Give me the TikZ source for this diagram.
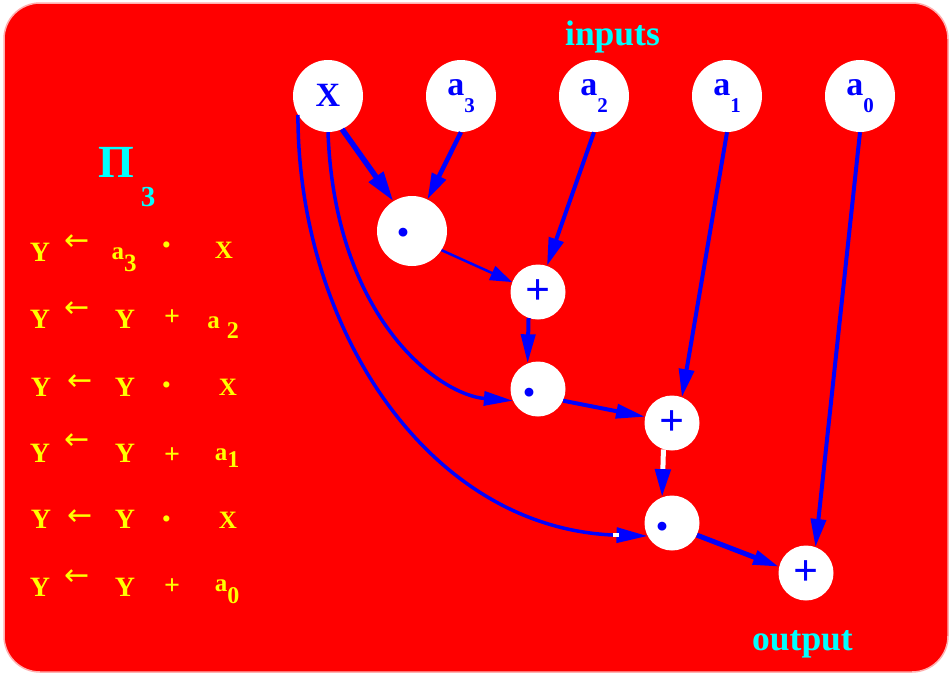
\documentclass[tikz,border=0pt]{standalone}
\usepackage{fontspec}
\setmainfont{Liberation Serif}
\newfontfamily\arrowfont{DejaVu Sans}
\usetikzlibrary{arrows.meta,shapes.geometric}

\definecolor{slidered}{RGB}{255,0,0}
\definecolor{rimpink}{RGB}{255,175,175}
\definecolor{hiblue}{RGB}{0,0,255}
\definecolor{hicyan}{RGB}{0,255,255}
\definecolor{hiyellow}{RGB}{255,255,0}
\newcommand{\fsz}[1]{\fontsize{#1}{#1}\selectfont}
% variable with a lowered index, as set on the slide
\newcommand{\subvar}[4]{#1\raisebox{-#3pt}{\fsz{#4}#2}}
% product dot inside an operation circle: zero-size box, moved left by #1/2 and down by #2
\newcommand{\opdot}[2]{\makebox[0pt]{\hspace*{-#1pt}\raisebox{-#2pt}[0pt][0pt]{·}}}

\begin{document}
\begin{tikzpicture}[x=1pt,y=-1pt,
  inbox/.style={ellipse, fill=white, minimum width=70pt, minimum height=72pt,
    inner sep=0pt, text=hiblue, font=\bfseries\fsz{34}},
  opbig/.style={circle, fill=white, minimum size=70pt, inner sep=0pt,
    text=hiblue, font=\bfseries\fsz{44}},
  opnode/.style={circle, fill=white, minimum size=55pt, inner sep=0pt,
    text=hiblue, font=\bfseries\fsz{44}},
  dotfont/.style={font=\bfseries\fsz{54}},
  flow/.style={draw=hiblue, line width=4pt, -{Triangle[length=28pt,width=15pt]}},
  title/.style={text=hicyan, font=\bfseries\fsz{35.5}, inner sep=0pt, anchor=base},
  lt/.style={text=hiyellow, font=\bfseries\fsz{28}, inner sep=0pt, anchor=base},
  ls/.style={text=hiyellow, font=\bfseries\fsz{25}, inner sep=0pt, anchor=base},
  lop/.style={text=hiyellow, font=\bfseries\fsz{28}, inner sep=0pt, anchor=base},
  ldot/.style={text=hiyellow, font=\bfseries\fsz{38}, inner sep=0pt, anchor=base},
  larr/.style={text=hiyellow, font=\arrowfont\fsz{30}, inner sep=0pt, anchor=center},
]
% slide background
\fill[white] (0,0) rectangle (951,675);
\draw[rimpink, line width=1.5pt, fill=slidered, rounded corners=36pt] (4,3) rectangle (948,672);

% captions
\node[title] (inputs) at (612.5,45) {inputs};
\node[title] (output) at (802.5,650) {output};

% program listing
\node[text=hicyan, font=\bfseries\fsz{46}, inner sep=0pt, anchor=base] (bigpi) at (116,177) {Π};
\node[text=hicyan, font=\bfseries\fsz{29}, inner sep=0pt, anchor=base] (pisub) at (148,206) {3};

\node[lt] (y1) at (40,261) {Y};
\node[larr] (arr1) at (77,243) {←};
\node[ls] (r1a) at (124,259) {\subvar{a}{3}{12}{25}};
\node[ldot] (r1o) at (167,257) {·};
\node[ls] (r1x) at (224,258) {X};

\node[lt] (y2) at (40,328) {Y};
\node[larr] (arr2) at (77,310) {←};
\node[lt] (z2) at (125,328) {Y};
\node[lop] (r2o) at (172,325) {+};
\node[ls] (r2a) at (223,328) {a\hspace{7pt}\raisebox{-10pt}{\fsz{24}2}};

\node[lt] (y3) at (41,396) {Y};
\node[larr] (arr3) at (80,383) {←};
\node[lt] (z3) at (125,396) {Y};
\node[ldot] (r3o) at (167,397) {·};
\node[ls] (r3x) at (228,395) {X};

\node[lt] (y4) at (40,462) {Y};
\node[larr] (arr4) at (77,442) {←};
\node[lt] (z4) at (125,462) {Y};
\node[lop] (r4o) at (172,463) {+};
\node[ls] (r4a) at (227,460) {\subvar{a}{1}{7}{24}};

\node[lt] (y5) at (41,528) {Y};
\node[larr] (arr5) at (80,518) {←};
\node[lt] (z5) at (125,528) {Y};
\node[ldot] (r5o) at (167,531) {·};
\node[ls] (r5x) at (228,528) {X};

\node[lt] (y6) at (40,596) {Y};
\node[larr] (arr6) at (77,578) {←};
\node[lt] (z6) at (125,596) {Y};
\node[lop] (r6o) at (172,594) {+};
\node[ls] (r6a) at (227,591) {\subvar{a}{0}{12}{24}};

% input nodes
\node[inbox] (X)  at (328,96) {\raisebox{2pt}{X}};
\node[inbox] (a3) at (461,96) {\subvar{a}{3}{17}{21}};
\node[inbox] (a2) at (594,96) {\subvar{a}{2}{17}{21}};
\node[inbox] (a1) at (727,96) {\subvar{a}{1}{17}{21}};
\node[inbox] (a0) at (860,96) {\subvar{a}{0}{17}{21}};

% operation nodes
\node[opbig, dotfont]  (dot1)  at (412,231) {\opdot{16}{19}};
\node[opnode] (plus1) at (538,292) {+};
\node[opnode, dotfont] (dot2)  at (538,389) {\opdot{18}{21}};
\node[opnode] (plus2) at (672,423) {+};
\node[opnode, dotfont] (dot3)  at (672,523) {\opdot{20}{21}};
\node[opnode] (plus3) at (806,573) {+};

% data flow
\draw[flow, line width=5.5pt, -{Triangle[length=30pt,width=17pt]}] (X.-67) -- (dot1.122);
\draw[flow, line width=4.5pt, -{Triangle[length=26pt,width=15pt]}] (a3.south) -- (dot1.64);
\draw[flow] (a2.south) -- (plus1.71);
\draw[flow, line width=2.5pt, -{Triangle[length=22pt,width=15pt]}] (dot1.-33) -- (plus1.159);
\draw[flow, -{Triangle[length=29pt,width=14pt]}] (plus1.-110) -- (dot2.112);
\draw[flow, line width=3.5pt, -{Triangle[length=29pt,width=14pt]}] (X.south) .. controls (335,320) and (440,395) .. (dot2.205);
\draw[flow, -{Triangle[length=29pt,width=14pt]}] (dot2.-25) -- (plus2.167);
\draw[flow] (a1.south) -- (plus2.69);
\draw[line width=5pt, white, -{Triangle[length=28pt,width=15pt,color=hiblue]}] (plus2.-108) -- (dot3.111);
\draw[flow, line width=3.5pt, -{Triangle[length=31pt,width=15pt]}] (X.212) .. controls (298,330) and (430,530) .. (dot3.208);
\node[fill=white, minimum width=6pt, minimum height=4pt, inner sep=0pt] (nick) at (616,535) {};
\draw[flow, line width=5pt, -{Triangle[length=26pt,width=14pt]}] (dot3.-26) -- (plus3.167);
\draw[flow] (a0.south) -- (plus3.70);
\end{tikzpicture}
\end{document}
